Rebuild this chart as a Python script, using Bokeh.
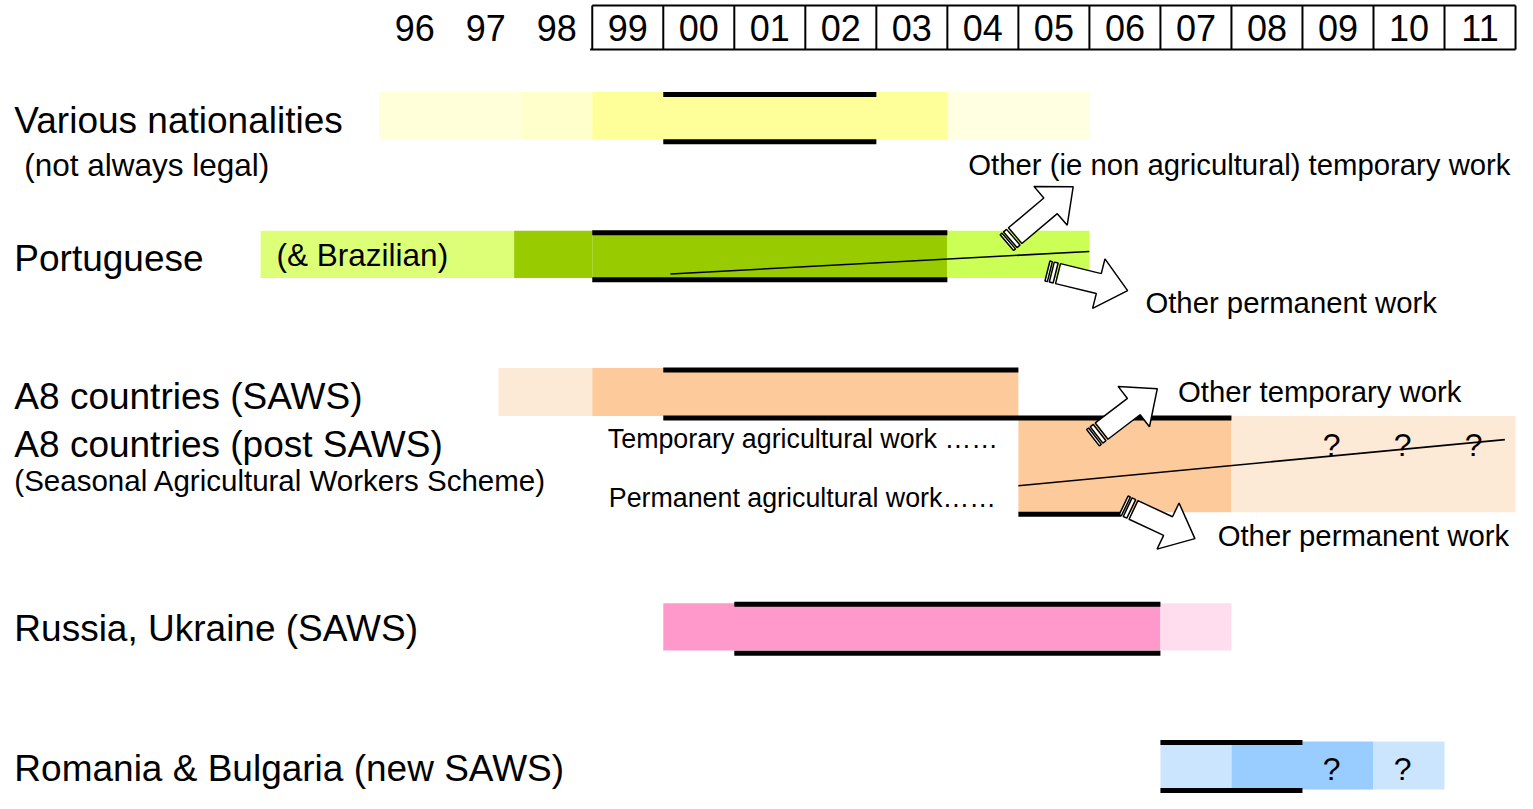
import math
from bokeh.plotting import figure
from bokeh.models import Range1d, ColumnDataSource
from bokeh.embed import file_html
from bokeh.resources import INLINE
from bokeh.core.properties import value

# ---------------- data ----------------
year_labels = ["96", "97", "98", "99", "00", "01", "02", "03", "04", "05",
               "06", "07", "08", "09", "10", "11"]
first_year = 1996
first_boxed_year = 1999
last_year_end = 2012

row_labels = ["Various nationalities", "Portuguese", "A8 countries (SAWS)",
              "A8 countries (post SAWS)", "Russia, Ukraine (SAWS)",
              "Romania & Bulgaria (new SAWS)"]
note_not_legal = "(not always legal)"
note_saws = "(Seasonal Agricultural Workers Scheme)"

# bar segments per row: (start year, end year)
various_start = [1996, 1998, 1999, 2004]
various_end = [1998, 1999, 2004, 2006]
portuguese_start = [1994.33, 1997.9, 1999, 2004]
portuguese_end = [1997.9, 1999, 2004, 2006]
a8_saws_start = [1997.68, 1999]
a8_saws_end = [1999, 2005]
a8_post_start = [2005, 2008]
a8_post_end = [2008, 2012]
russia_start = [2000, 2007]
russia_end = [2007, 2008]
romania_start = [2007, 2008, 2010]
romania_end = [2008, 2010, 2011]

# core (bold-bordered) periods: (start, end)
various_core = (2000, 2003)
portuguese_core = (1999, 2004)
a8_saws_core = (2000, 2005)
a8_saws_core_bottom = (2000, 2008)
a8_post_core_bottom = (2005, 2006.45)
russia_core = (2001, 2007)
romania_core = (2007, 2009)

# temporary / permanent split lines: (start year, end year)
portuguese_split = (2000.1, 2006.0)
a8_post_split = (2005, 2011.85)

# uncertain years
a8_post_uncertain = [2009, 2010, 2011]
romania_uncertain = [2009, 2010]

# ---------------- layout / style ----------------
CW = 71.77          # reference px per year
PX0 = 598.0         # reference px where 1999 starts


def px2yr(px):
    return 1999 + (px - PX0) / CW


FONT = value("Liberation Sans")

various_col = ["#FFFFDA", "#FFFFCC", "#FFFF99", "#FFFFE2"]
portuguese_col = ["#DDFF77", "#99CC00", "#99CC00", "#CCFF55"]
a8_saws_col = ["#FDEAD6", "#FDCB9B"]
a8_post_col = ["#FDCB9B", "#FDEAD6"]
russia_col = ["#FF99CC", "#FFDDEE"]
romania_col = ["#CCE5FF", "#99CCFF", "#CCE5FF"]

# row bands (top, bottom) in reference px
band_various = (93, 142)
band_port = (235, 283)
band_saws = (375, 424)
band_post = (424, 522)
band_russia = (615, 663)
band_romania = (756, 805)

p = figure(width=1517, height=793, output_backend="svg", toolbar_location=None,
           x_range=Range1d(px2yr(0), px2yr(1533)),
           y_range=Range1d(809, 0), min_border=0)
p.axis.visible = False
p.grid.visible = False
p.outline_line_color = None
p.background_fill_color = "white"

# ---- bars ----
L, R, T, B, C = [], [], [], [], []
for st, en, cols, band in [
    (various_start, various_end, various_col, band_various),
    (portuguese_start, portuguese_end, portuguese_col, band_port),
    (a8_saws_start, a8_saws_end, a8_saws_col, band_saws),
    (a8_post_start, a8_post_end, a8_post_col, band_post),
    (russia_start, russia_end, russia_col, band_russia),
    (romania_start, romania_end, romania_col, band_romania),
]:
    for s, e, c in zip(st, en, cols):
        L.append(s); R.append(e); T.append(band[0]); B.append(band[1]); C.append(c)
p.quad(left="l", right="r", top="t", bottom="b", fill_color="c", line_color=None,
       source=ColumnDataSource(dict(l=L, r=R, t=T, b=B, c=C)))

# ---- bold borders ----
x0s, x1s, ys = [], [], []
def add_line(span, y):
    x0s.append(span[0]); x1s.append(span[1]); ys.append(y)

add_line(various_core, band_various[0] + 3)
add_line(various_core, band_various[1] + 2)
add_line(portuguese_core, band_port[0] + 2)
add_line(portuguese_core, band_port[1] + 2)
add_line(a8_saws_core, band_saws[0] + 2)
add_line(a8_saws_core_bottom, band_saws[1] + 2)
add_line(a8_post_core_bottom, band_post[1] + 2)
add_line(russia_core, band_russia[0] + 1)
add_line(russia_core, band_russia[1] + 3)
add_line(romania_core, band_romania[0] + 1)
add_line(romania_core, band_romania[1] + 1)
p.segment(x0=x0s, y0=ys, x1=x1s, y1=ys, line_color="black", line_width=5)

# ---- split lines (temporary / permanent) ----
p.segment(x0=[portuguese_split[0], a8_post_split[0]], y0=[279, 495],
          x1=[portuguese_split[1], a8_post_split[1]], y1=[256, 448],
          line_color="black", line_width=1.6)

# ---- header ----
hdr_top, hdr_bot = 5, 50
p.segment(x0=[first_boxed_year - 0.03, first_boxed_year], y0=[hdr_bot, hdr_top],
          x1=[last_year_end, last_year_end], y1=[hdr_bot, hdr_top],
          line_color="black", line_width=2)
vx = list(range(first_boxed_year, last_year_end + 1))
p.segment(x0=vx, y0=[hdr_top] * len(vx), x1=vx, y1=[hdr_bot] * len(vx),
          line_color="black", line_width=2)
p.text(x=[first_year + i + 0.5 for i in range(len(year_labels))], y=[28] * len(year_labels),
       text=year_labels, text_align="center", text_baseline="middle",
       text_font=FONT, text_font_size="36px", text_color="black")

# ---- row labels ----
lx = px2yr(14)
label_y = [122, 263, 404, 453, 641, 783]
p.text(x=[lx] * len(row_labels), y=label_y, text=row_labels, text_align="left",
       text_baseline="middle", text_font=FONT, text_font_size="37px", text_color="black")
p.text(x=[px2yr(24)], y=[168], text=[note_not_legal], text_align="left",
       text_baseline="middle", text_font=FONT, text_font_size="31.5px")
p.text(x=[lx], y=[490], text=[note_saws], text_align="left",
       text_baseline="middle", text_font=FONT, text_font_size="29.5px")

# ---- in-chart annotations ----
p.text(x=[px2yr(279)], y=[260], text=["(& Brazilian)"], text_align="left",
       text_baseline="middle", text_font=FONT, text_font_size="31.5px")
p.text(x=[px2yr(978), px2yr(1157), px2yr(1190), px2yr(1230)],
       y=[167, 308, 399, 546],
       text=["Other (ie non agricultural) temporary work", "Other permanent work",
             "Other temporary work", "Other permanent work"],
       text_align="left", text_baseline="middle", text_font=FONT, text_font_size="29.3px")
p.text(x=[px2yr(1008), px2yr(1006)], y=[447, 508],
       text=["Temporary agricultural work \u2026\u2026", "Permanent agricultural work\u2026\u2026"],
       text_align="right", text_baseline="middle", text_font=FONT, text_font_size="26.8px")
qx = [yv + 0.41 for yv in a8_post_uncertain] + [yv + 0.41 for yv in romania_uncertain]
qy = [453] * len(a8_post_uncertain) + [784] * len(romania_uncertain)
p.text(x=qx, y=qy, text=["?"] * len(qx), text_align="center", text_baseline="middle",
       text_font=FONT, text_font_size="32px")


# ---- block (striped) arrows ----
def striped_arrow(tail, tip, body_w=21, head_w=52, head_len=30):
    tx, ty = tail
    hx, hy = tip
    dx, dy = hx - tx, hy - ty
    Ln = math.hypot(dx, dy)
    ux, uy = dx / Ln, dy / Ln
    vx_, vy_ = -uy, ux

    def pt(a, b):
        return (px2yr(tx + ux * a + vx_ * b), ty + uy * a + vy_ * b)

    polys = []
    bw = body_w / 2
    for a0, a1 in [(0, 2.5), (4.5, 8.5)]:
        polys.append([pt(a0, -bw), pt(a1, -bw), pt(a1, bw), pt(a0, bw)])
    b0 = 11
    polys.append([pt(b0, -bw), pt(Ln - head_len, -bw), pt(Ln - head_len, -head_w / 2),
                  pt(Ln, 0), pt(Ln - head_len, head_w / 2), pt(Ln - head_len, bw),
                  pt(b0, bw)])
    return polys


xs, ys2 = [], []
for tail, tip in [((1017, 247), (1084, 190)), ((1058, 276), (1139, 296)),
                  ((1104, 446), (1169, 396)), ((1135, 515), (1207, 549))]:
    for poly in striped_arrow(tail, tip):
        xs.append([q[0] for q in poly]); ys2.append([q[1] for q in poly])
p.patches(xs=xs, ys=ys2, fill_color="white", line_color="black", line_width=1.5)

open("out.html", "w").write(file_html(p, INLINE))
